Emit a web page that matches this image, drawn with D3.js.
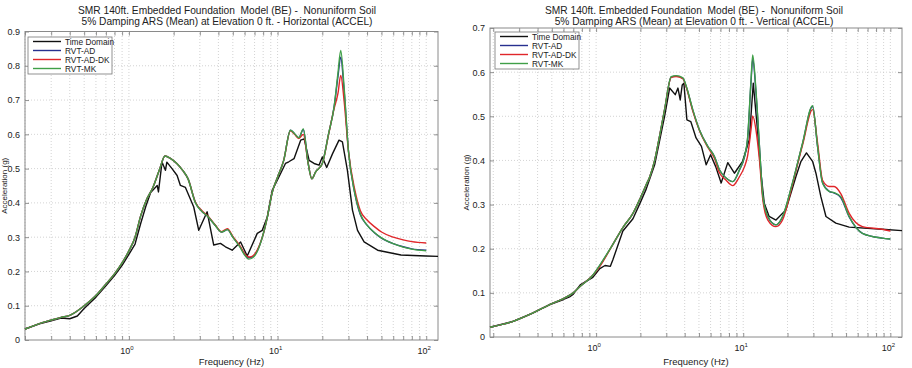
<!DOCTYPE html>
<html><head><meta charset="utf-8">
<script src="https://cdn.jsdelivr.net/npm/d3@7"></script>
<style>
html,body{margin:0;padding:0;background:#fff;}
svg text{font-family:"Liberation Sans",Arial,sans-serif;fill:#222;white-space:pre;}
</style></head>
<body>
<svg id="chart" width="912" height="368"></svg>
<script>
// ---------- DATA ----------
const seriesNames = ["Time Domain", "RVT-AD", "RVT-AD-DK", "RVT-MK"];
const titlesLeft = ["SMR 140ft. Embedded Foundation  Model (BE) -  Nonuniform Soil",
                    "5% Damping ARS (Mean) at Elevation 0 ft. - Horizontal (ACCEL)"];
const titlesRight = ["SMR 140ft. Embedded Foundation  Model (BE) -  Nonuniform Soil",
                     "5% Damping ARS (Mean) at Elevation 0 ft. - Vertical (ACCEL)"];
const xTickDecades = [1, 10, 100];
const yTicksLeft = [0, 0.1, 0.2, 0.3, 0.4, 0.5, 0.6, 0.7, 0.8, 0.9];
const yTicksRight = [0, 0.1, 0.2, 0.3, 0.4, 0.5, 0.6, 0.7];

// Left (Horizontal)
const freqL = [0.2,0.25,0.3,0.35,0.4,0.5,0.6,0.7,0.8,0.9,1.0,1.1,1.2,1.3,1.45,1.6,1.75,1.9,2.1,2.3,2.5,2.8,3.1,3.4,3.8,4.2,4.6,5.0,5.6,6.0,6.4,6.8,7.3,7.9,8.5,9.2,10,11,12.2,13,13.9,14.9,16,17,18,20,22,24,25.5,26.6,28,30,33,36,40,45,50,60,70,80,100];
const adL = [0.032,0.048,0.058,0.066,0.072,0.100,0.130,0.163,0.193,0.225,0.260,0.300,0.362,0.405,0.445,0.495,0.537,0.530,0.515,0.495,0.470,0.402,0.375,0.360,0.335,0.315,0.322,0.300,0.272,0.250,0.240,0.243,0.260,0.300,0.355,0.430,0.475,0.524,0.612,0.602,0.590,0.614,0.520,0.470,0.490,0.515,0.600,0.680,0.770,0.825,0.730,0.550,0.430,0.366,0.335,0.312,0.297,0.281,0.272,0.266,0.262];
const dkL = [0.032,0.048,0.058,0.066,0.072,0.100,0.130,0.163,0.193,0.225,0.260,0.300,0.362,0.405,0.445,0.495,0.537,0.530,0.515,0.495,0.470,0.402,0.377,0.362,0.336,0.316,0.325,0.302,0.274,0.252,0.242,0.245,0.262,0.300,0.355,0.430,0.475,0.524,0.610,0.600,0.588,0.600,0.520,0.470,0.490,0.515,0.598,0.675,0.720,0.772,0.700,0.550,0.440,0.378,0.350,0.330,0.315,0.300,0.292,0.287,0.283];
const mkL = [0.032,0.048,0.058,0.066,0.072,0.100,0.130,0.163,0.193,0.225,0.260,0.300,0.362,0.405,0.445,0.495,0.537,0.530,0.515,0.495,0.470,0.400,0.375,0.360,0.335,0.315,0.322,0.300,0.270,0.248,0.236,0.240,0.258,0.300,0.355,0.430,0.475,0.524,0.612,0.602,0.590,0.616,0.520,0.470,0.490,0.515,0.600,0.680,0.780,0.845,0.740,0.550,0.430,0.368,0.335,0.313,0.298,0.281,0.271,0.265,0.260];
const timeFreqL = [0.2,0.25,0.3,0.35,0.4,0.45,0.5,0.6,0.7,0.8,0.9,1.0,1.1,1.2,1.3,1.4,1.55,1.58,1.67,1.76,1.8,1.95,2.11,2.22,2.4,2.73,2.95,3.36,3.72,4.13,4.46,4.95,5.64,6.25,7.3,7.89,8.53,9.21,9.96,11.3,11.9,12.9,14.3,15.1,16.3,17.6,19.0,20.0,21.4,23.4,25.9,27.3,29.5,31.9,34.5,38.2,47.1,67.6,99.6,120];
const timeL = [0.032,0.047,0.056,0.064,0.062,0.070,0.092,0.125,0.158,0.188,0.218,0.250,0.280,0.340,0.390,0.430,0.451,0.432,0.519,0.495,0.519,0.500,0.480,0.451,0.445,0.388,0.320,0.374,0.277,0.282,0.272,0.262,0.286,0.245,0.311,0.320,0.359,0.437,0.466,0.515,0.520,0.529,0.583,0.587,0.524,0.515,0.510,0.534,0.503,0.543,0.583,0.578,0.495,0.379,0.320,0.286,0.262,0.248,0.245,0.244];

// Right (Vertical)
const freqR = [0.19,0.27,0.37,0.48,0.6,0.68,0.78,0.95,1.06,1.3,1.52,1.78,2.0,2.19,2.31,2.5,2.7,2.92,3.24,3.5,3.89,4.1,4.54,5.04,5.74,6.37,6.89,7.65,8.49,9.42,10.2,10.7,11.3,11.6,12.2,12.9,13.6,14.7,16.7,18.5,21.6,25.3,29.6,32,34.6,38.4,41.5,46,52.5,64.6,88,100];
const adR = [0.022,0.035,0.054,0.073,0.087,0.097,0.115,0.140,0.162,0.210,0.248,0.280,0.315,0.345,0.362,0.400,0.455,0.515,0.589,0.591,0.586,0.567,0.514,0.469,0.432,0.409,0.379,0.360,0.352,0.378,0.408,0.448,0.578,0.630,0.555,0.430,0.318,0.272,0.254,0.272,0.348,0.438,0.522,0.432,0.350,0.330,0.326,0.316,0.272,0.235,0.224,0.222];
const dkR = [0.022,0.035,0.054,0.073,0.087,0.097,0.115,0.140,0.160,0.210,0.248,0.280,0.315,0.345,0.362,0.400,0.455,0.515,0.588,0.590,0.585,0.566,0.512,0.468,0.430,0.405,0.372,0.355,0.343,0.363,0.386,0.410,0.470,0.501,0.470,0.400,0.310,0.265,0.250,0.265,0.345,0.435,0.515,0.440,0.355,0.341,0.341,0.325,0.280,0.250,0.244,0.240];
const mkR = [0.022,0.035,0.054,0.073,0.087,0.097,0.115,0.140,0.163,0.210,0.248,0.280,0.315,0.345,0.362,0.400,0.455,0.515,0.590,0.592,0.587,0.568,0.515,0.469,0.432,0.409,0.379,0.360,0.352,0.379,0.409,0.450,0.583,0.639,0.560,0.431,0.318,0.273,0.254,0.273,0.349,0.439,0.524,0.432,0.349,0.330,0.327,0.318,0.273,0.235,0.224,0.222];
const timeFreqR = [0.19,0.27,0.37,0.48,0.6,0.66,0.7,0.78,0.95,1.06,1.15,1.25,1.3,1.52,1.78,2.0,2.19,2.5,2.92,3.16,3.45,3.6,3.73,3.85,3.95,4.14,4.4,4.78,5.2,5.6,6.0,6.5,7.08,7.85,8.71,9.9,11.0,11.7,12.5,13.2,13.9,15.0,16.7,19.5,22.8,24.7,26.9,29.6,31.2,33.7,36.5,42.6,52.5,88,120];
const timeR = [0.022,0.035,0.054,0.073,0.085,0.091,0.097,0.118,0.135,0.155,0.162,0.160,0.175,0.240,0.268,0.305,0.335,0.390,0.500,0.564,0.549,0.564,0.537,0.571,0.575,0.492,0.488,0.451,0.432,0.390,0.413,0.386,0.349,0.395,0.371,0.398,0.447,0.575,0.469,0.371,0.303,0.273,0.265,0.288,0.363,0.398,0.417,0.398,0.371,0.318,0.273,0.258,0.249,0.244,0.241];

const colors = ["#111111", "#27308f", "#e0262a", "#3f9f47"];

// ---------- DRAW ----------
const svg = d3.select("#chart");

function drawPanel(cfg) {
  const x = d3.scaleLog().domain(cfg.xDomain).range([cfg.x0, cfg.x1]);
  const y = d3.scaleLinear().domain([0, cfg.yMax]).range([cfg.y0, cfg.y1]);
  const g = svg.append("g");

  const minor = [];
  for (let d = 0.1; d <= 100; d *= 10) for (let k = 1; k <= 9; k++) {
    const v = +(d * k).toPrecision(3);
    if (v >= cfg.xDomain[0] && v <= cfg.xDomain[1]) minor.push(v);
  }
  g.append("g").selectAll("line").data(minor).join("line")
    .attr("x1", d => x(d)).attr("x2", d => x(d))
    .attr("y1", cfg.y0).attr("y2", cfg.y1)
    .attr("stroke", "#c8c8c8").attr("stroke-width", 0.8).attr("stroke-dasharray", "1,2");
  g.append("g").selectAll("line").data(cfg.yTicks.slice(1, -1)).join("line")
    .attr("x1", cfg.x0).attr("x2", cfg.x1)
    .attr("y1", d => y(d)).attr("y2", d => y(d))
    .attr("stroke", "#c8c8c8").attr("stroke-width", 0.8).attr("stroke-dasharray", "1,2");

  const axB = d3.axisBottom(x).tickValues(minor).tickSize(-4).tickFormat("");
  const axT = d3.axisTop(x).tickValues(minor).tickSize(-4).tickFormat("");
  const axL = d3.axisLeft(y).tickValues(cfg.yTicks).tickSize(-4).tickPadding(5).tickFormat(d => d === 0 ? "0" : d3.format(".1f")(d));
  const axR = d3.axisRight(y).tickValues(cfg.yTicks).tickSize(-4).tickFormat("");
  [[axB, `translate(0,${cfg.y0})`], [axT, `translate(0,${cfg.y1})`], [axR, `translate(${cfg.x1},0)`], [axL, `translate(${cfg.x0},0)`]].forEach(([ax, tr]) => {
    const a = g.append("g").attr("transform", tr).call(ax);
    a.select(".domain").remove();
    a.selectAll(".tick line").attr("stroke", "#777").attr("stroke-width", 0.8);
    a.selectAll("text").attr("font-size", 9).attr("fill", "#333").style("font-family", '"Liberation Sans",Arial,sans-serif');
  });

  const lab = g.append("g").selectAll("text").data(xTickDecades).join("text")
    .attr("x", d => x(d) - 2).attr("y", cfg.y0 + 14)
    .attr("text-anchor", "middle").attr("font-size", 9).attr("fill", "#333");
  lab.append("tspan").text("10");
  lab.append("tspan").attr("dy", -4).attr("font-size", 6).text(d => Math.round(Math.log10(d)));

  g.append("rect").attr("x", cfg.x0).attr("y", cfg.y1)
    .attr("width", cfg.x1 - cfg.x0).attr("height", cfg.y0 - cfg.y1)
    .attr("fill", "none").attr("stroke", "#8a8a8a").attr("stroke-width", 1);

  const line = d3.line().x(d => x(d[0])).y(d => y(d[1]));
  const sets = [
    [cfg.timeF, cfg.time, d3.curveLinear],
    [cfg.freq, cfg.ad, d3.curveMonotoneX],
    [cfg.freq, cfg.dk, d3.curveMonotoneX],
    [cfg.freq, cfg.mk, d3.curveMonotoneX]
  ];
  sets.forEach(([fs, vs, cv], i) => {
    g.append("path").datum(fs.map((f, j) => [f, vs[j]]))
      .attr("d", line.curve(cv)).attr("fill", "none")
      .attr("stroke", colors[i]).attr("stroke-width", 1.4).attr("stroke-linejoin", "round");
  });

  const cx = (cfg.x0 + cfg.x1) / 2;
  cfg.titles.forEach((t, i) => {
    g.append("text").attr("x", cfg.titleX).attr("y", 14 + i * 10.5)
      .attr("text-anchor", "middle").attr("font-size", 10.2).attr("fill", "#333").text(t);
  });
  g.append("text").attr("x", cx).attr("y", 365).attr("text-anchor", "middle")
    .attr("font-size", 9.5).attr("fill", "#333").text("Frequency (Hz)");
  g.append("text").attr("transform", `translate(${cfg.ylabX},${(cfg.y0 + cfg.y1) / 2}) rotate(-90)`)
    .attr("text-anchor", "middle").attr("font-size", 8).attr("fill", "#333").text("Acceleration (g)");

  const lg = g.append("g").attr("transform", `translate(${cfg.legX},${cfg.legY})`);
  lg.append("rect").attr("width", 84).attr("height", 37).attr("fill", "#fff")
    .attr("stroke", "#777").attr("stroke-width", 0.8);
  seriesNames.forEach((n, i) => {
    const yy = 4.5 + i * 9;
    lg.append("line").attr("x1", 5).attr("x2", 33).attr("y1", yy).attr("y2", yy)
      .attr("stroke", colors[i]).attr("stroke-width", 1.4);
    lg.append("text").attr("x", 37).attr("y", yy + 3).attr("font-size", 8.3)
      .attr("fill", "#222").text(n);
  });
}

drawPanel({
  xDomain: [0.2, 120], x0: 25, x1: 438, y0: 340, y1: 31.5, yMax: 0.9, yTicks: yTicksLeft,
  freq: freqL, ad: adL, dk: dkL, mk: mkL, timeF: timeFreqL, time: timeL,
  titles: titlesLeft, titleX: 227, ylabX: 7, legX: 28, legY: 37
});
drawPanel({
  xDomain: [0.19, 120], x0: 490, x1: 902, y0: 337, y1: 28, yMax: 0.7, yTicks: yTicksRight,
  freq: freqR, ad: adR, dk: dkR, mk: mkR, timeF: timeFreqR, time: timeR,
  titles: titlesRight, titleX: 694, ylabX: 469, legX: 495, legY: 32
});
</script>
</body></html>
